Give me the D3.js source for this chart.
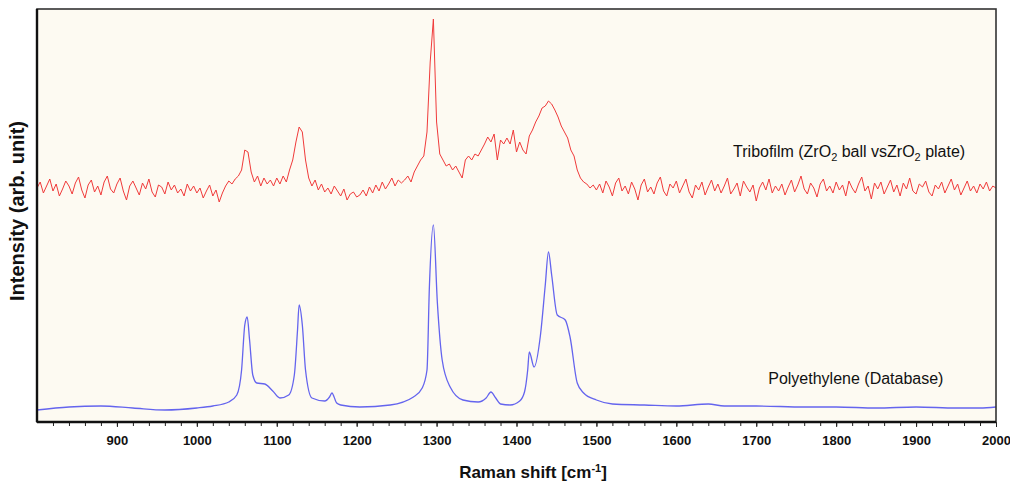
<!DOCTYPE html>
<html>
  <head>
    <meta charset="utf-8" />
    <script src="https://d3js.org/d3.v7.min.js"></script>
    <style>
      body { margin: 0; background: #ffffff; }
      text { font-family: "Liberation Sans", Arial, sans-serif; }
    </style>
  </head>
  <body>
    <div id="my_dataviz"></div>
    <script>
      // Raman shift grid of the measured tribofilm spectrum (every 4 cm-1)
      var shiftStart = 800, shiftStep = 4;

      // Tribofilm (ZrO2 ball vs ZrO2 plate), intensity in arb. units
      var tribofilm = [
        // 800 - 1040
        234,240,229,236,243,231,238,226,233,241,236,228,239,245,232,224,237,242,230,236,
        227,240,246,233,229,238,244,231,222,236,241,234,227,239,233,243,230,225,237,235,
        228,240,232,237,229,233,226,238,231,236,229,234,224,231,237,226,232,220,229,236,
        241,
        // 1044 - 1100
        238,243,246,252,272,270,250,240,246,236,244,238,242,236,244,
        // 1104 - 1160
        238,246,240,252,262,280,295,290,262,244,236,242,232,238,230,
        // 1164 - 1256
        234,228,236,231,226,233,222,228,230,225,227,232,226,235,229,237,231,240,233,238,
        244,236,242,239,
        // 1260 - 1496
        242,246,240,250,256,262,266,290,360,403,300,268,262,256,258,252,256,250,244,262,
        266,262,268,266,272,278,285,280,288,262,282,278,284,278,292,270,280,272,268,286,
        292,300,306,314,316,321,318,312,305,296,290,284,272,266,252,244,240,238,234,237,
        // 1500 - 2000
        232,238,229,241,235,226,239,244,231,236,228,240,233,222,237,243,230,235,228,239,
        245,231,226,238,234,241,229,236,243,230,224,237,232,240,227,235,242,231,238,229,
        236,244,228,233,239,226,241,235,230,237,221,234,240,232,243,229,236,231,238,227,
        235,242,230,237,246,233,228,239,234,225,238,243,231,236,229,240,232,237,226,241,
        234,229,238,245,231,236,223,239,233,240,228,235,242,230,237,226,239,233,244,231,
        228,238,235,241,230,226,237,233,240,229,236,243,232,238,227,234,241,231,236,229,
        238,233,240,231,236,234
      ];

      // Polyethylene reference spectrum (database)
      var peShift = [
        800, 840, 880, 920, 960, 1000, 1020, 1040, 1050, 1056, 1060, 1063, 1066, 1070, 1075,
        1085, 1095, 1104, 1115, 1122, 1126, 1128, 1132, 1136, 1144, 1160, 1166, 1169, 1175,
        1180, 1204, 1242, 1271, 1282, 1288, 1291, 1296, 1301, 1307, 1317, 1333, 1352, 1362,
        1368, 1374, 1380, 1392, 1404, 1410, 1414, 1416, 1422, 1430, 1436, 1440, 1444, 1451,
        1461, 1467, 1476, 1484, 1500, 1520, 1560, 1600, 1640, 1660, 1700, 1760, 1800, 1850,
        1900, 1950, 1980, 2000
      ];
      var peIntensity = [
        12, 15, 16, 14, 12, 14, 16, 20, 27, 52, 97, 105, 82, 47, 39,
        38, 31, 24, 27, 47, 92, 117, 97, 52, 24, 21, 25, 29, 19,
        17, 15, 17, 25, 34, 52, 135, 197, 119, 62, 35, 22, 20, 24,
        30, 24, 18, 17, 21, 30, 52, 70, 55, 87, 137, 170, 147, 107,
        102, 85, 39, 29, 22, 18, 17, 16, 18, 16, 16, 15, 15, 14,
        15, 14, 14, 15
      ];

      var majorTicks = [900, 1000, 1100, 1200, 1300, 1400, 1500, 1600, 1700, 1800, 1900, 2000];

      var width = 1010, height = 482;
      var margin = { top: 9, right: 14, bottom: 60, left: 37 };
      var plotW = width - margin.left - margin.right,
        plotH = height - margin.top - margin.bottom;

      var svg = d3
        .select("#my_dataviz")
        .append("svg")
        .attr("width", width)
        .attr("height", height);

      var g = svg
        .append("g")
        .attr("transform", "translate(" + margin.left + "," + margin.top + ")");

      var x = d3.scaleLinear().domain([800, 2000]).range([0, plotW]);
      var y = d3.scaleLinear().domain([0, 413]).range([plotH, 0]);

      // plot background
      g.append("rect")
        .attr("width", plotW)
        .attr("height", plotH)
        .style("fill", "#fdfaf2");

      var triboData = tribofilm.map(function (v, i) {
        return { s: shiftStart + i * shiftStep, v: v };
      });
      var peData = peShift.map(function (s, i) {
        return { s: s, v: peIntensity[i] };
      });

      var line = d3
        .line()
        .x(function (d) { return x(d.s); })
        .y(function (d) { return y(d.v); });

      g.append("path")
        .datum(peData)
        .attr("d", line.curve(d3.curveMonotoneX))
        .style("fill", "none")
        .style("stroke", "#6464ee")
        .style("stroke-width", 1.3);

      g.append("path")
        .datum(triboData)
        .attr("d", line.curve(d3.curveLinear))
        .style("fill", "none")
        .style("stroke", "#f03a3a")
        .style("stroke-width", 1);

      // minor ticks
      var minor = d3.range(820, 2001, 20);
      g.append("g")
        .attr("transform", "translate(0," + plotH + ")")
        .call(d3.axisBottom(x).tickValues(minor).tickSize(4).tickFormat(""))
        .call(function (a) { a.select(".domain").remove(); })
        .selectAll("line")
        .style("stroke", "#222");

      // major ticks with labels
      var xAxis = g
        .append("g")
        .attr("transform", "translate(0," + plotH + ")")
        .call(d3.axisBottom(x).tickValues(majorTicks).tickSize(5).tickPadding(9).tickFormat(d3.format("d")));
      xAxis.select(".domain").remove();
      xAxis.selectAll("line").style("stroke", "#222");
      xAxis
        .selectAll("text")
        .style("font-family", "'Liberation Sans', Arial, sans-serif")
        .style("font-size", "13px")
        .style("font-weight", "bold")
        .style("fill", "#111");

      // frame
      g.append("rect")
        .attr("width", plotW)
        .attr("height", plotH)
        .style("fill", "none")
        .style("stroke", "#333")
        .style("stroke-width", 1.6);
      g.append("line")
        .attr("x1", 0).attr("x2", 0).attr("y1", 0).attr("y2", plotH)
        .style("stroke", "#111").style("stroke-width", 2.4);
      g.append("line")
        .attr("x1", 0).attr("x2", plotW).attr("y1", plotH).attr("y2", plotH)
        .style("stroke", "#111").style("stroke-width", 2.4);

      // series labels
      var t1 = g
        .append("text")
        .attr("x", x(1671))
        .attr("y", y(265))
        .style("font-size", "16px")
        .style("fill", "#111");
      t1.append("tspan").text("Tribofilm (ZrO");
      t1.append("tspan").attr("dy", 4).style("font-size", "11px").text("2");
      t1.append("tspan").attr("dy", -4).text(" ball vsZrO");
      t1.append("tspan").attr("dy", 4).style("font-size", "11px").text("2");
      t1.append("tspan").attr("dy", -4).text(" plate)");

      g.append("text")
        .attr("x", x(1715))
        .attr("y", y(38))
        .style("font-size", "16px")
        .style("fill", "#111")
        .text("Polyethylene (Database)");

      // axis titles
      var xt = svg
        .append("text")
        .attr("x", 533)
        .attr("y", 478)
        .attr("text-anchor", "middle")
        .style("font-size", "17px")
        .style("font-weight", "bold")
        .style("fill", "#111");
      xt.append("tspan").text("Raman shift [cm");
      xt.append("tspan").attr("dy", -6).style("font-size", "11px").text("-1");
      xt.append("tspan").attr("dy", 6).text("]");

      svg
        .append("text")
        .attr("transform", "translate(24,211) rotate(-90)")
        .attr("text-anchor", "middle")
        .style("font-size", "20px")
        .style("font-weight", "bold")
        .style("fill", "#111")
        .text("Intensity (arb. unit)");
    </script>
  </body>
</html>
